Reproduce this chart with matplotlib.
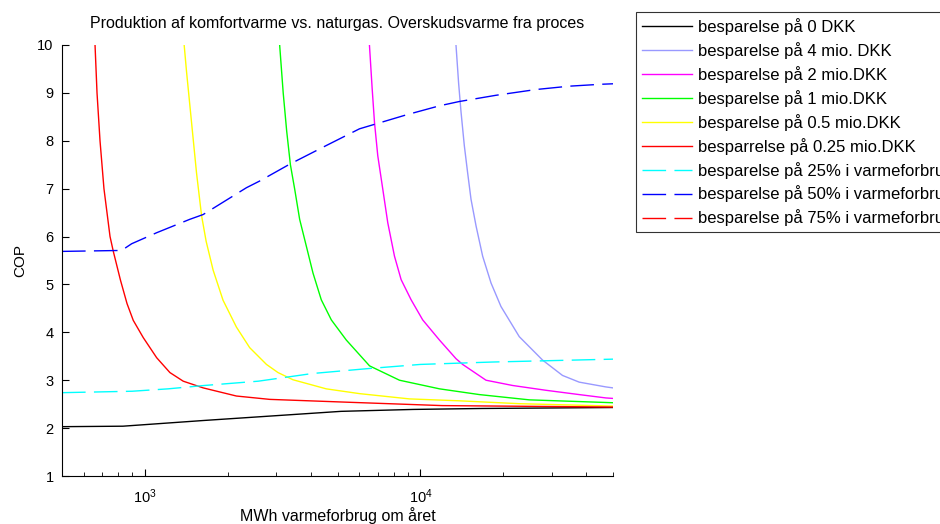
import matplotlib
matplotlib.use("Agg")
import matplotlib.pyplot as plt
from matplotlib.ticker import LogLocator, NullFormatter, FixedLocator

plt.rcParams['font.family'] = ['Liberation Sans', 'DejaVu Sans']
plt.rcParams['mathtext.fontset'] = 'custom'
plt.rcParams['mathtext.rm'] = 'Liberation Sans'

# --- data (MWh per year, COP) ---
x_0 = [500, 832, 1641, 3383, 5150, 9420, 16700, 50000]
y_0 = [2.03, 2.04, 2.16, 2.28, 2.35, 2.39, 2.41, 2.43]

x_4mio = [13460, 13760, 14040, 14430, 14830, 15260, 15920, 16820, 18040, 19600,
          22840, 27760, 32780, 37690, 47130, 50000]
y_4mio = [10.0, 9.2, 8.6, 7.9, 7.34, 6.78, 6.22, 5.59, 5.03, 4.54,
          3.91, 3.42, 3.10, 2.96, 2.86, 2.84]

x_2mio = [6530, 6680, 6810, 7000, 7300, 7610, 8050, 8510, 9250, 10190, 11720,
          13460, 14230, 17300, 21610, 28540, 37690, 47130, 50000]
y_2mio = [10.0, 9.09, 8.39, 7.69, 6.99, 6.29, 5.59, 5.10, 4.68, 4.26, 3.84,
          3.45, 3.33, 3.00, 2.89, 2.79, 2.70, 2.63, 2.62]

x_1mio = [3083, 3176, 3270, 3373, 3496, 3644, 3853, 4073, 4366, 4748, 5380,
          6535, 8395, 11730, 16370, 24850, 50000]
y_1mio = [10.0, 9.0, 8.2, 7.5, 6.99, 6.36, 5.80, 5.24, 4.68, 4.26, 3.84,
          3.30, 3.00, 2.82, 2.70, 2.59, 2.53]

x_05mio = [1388, 1416, 1476, 1539, 1605, 1668, 1768, 1921, 2148, 2400, 2761,
           3041, 3445, 4550, 6010, 9120, 13840, 22840, 50000]
y_05mio = [10.0, 9.44, 8.39, 7.33, 6.44, 5.90, 5.30, 4.67, 4.11, 3.68, 3.33,
           3.16, 3.01, 2.82, 2.72, 2.61, 2.57, 2.51, 2.46]

x_025mio = [659, 670, 687, 710, 747, 767, 815, 861, 907, 986, 1103, 1232,
            1377, 1627, 2148, 2837, 5480, 12000, 50000]
y_025mio = [10.0, 9.0, 8.0, 7.0, 6.0, 5.70, 5.09, 4.60, 4.25, 3.89, 3.47, 3.16,
            2.98, 2.84, 2.67, 2.60, 2.54, 2.47, 2.44]

x_25pct = [500, 899, 1214, 1641, 2580, 4051, 6370, 10000, 18270, 50000]
y_25pct = [2.74, 2.77, 2.82, 2.89, 2.98, 3.14, 3.24, 3.33, 3.38, 3.44]

x_50pct = [500, 823, 895, 1103, 1455, 1627, 2336, 2610, 3350, 4550, 6010,
           8870, 11720, 13840, 18800, 26240, 34650, 45200, 50000]
y_50pct = [5.69, 5.71, 5.85, 6.08, 6.36, 6.46, 7.02, 7.16, 7.51, 7.90, 8.25,
           8.54, 8.73, 8.82, 8.95, 9.07, 9.14, 9.18, 9.19]

# 75% curve lies outside the visible range (appears only in the legend)
x_75pct = []
y_75pct = []

labels = ["besparelse på 0 DKK", "besparelse på 4 mio. DKK", "besparelse på 2 mio.DKK",
          "besparelse på 1 mio.DKK", "besparelse på 0.5 mio.DKK", "besparrelse på 0.25 mio.DKK",
          "besparelse på 25% i varmeforbrug", "besparelse på 50% i varmeforbrug",
          "besparelse på 75% i varmeforbrug"]

fig = plt.figure(figsize=(9.40, 5.24), dpi=100)
ax = fig.add_axes([62/940, 1-476/524, (613-62)/940, (476-45)/524])

dash = (0, (17, 6))
series = [
    (x_0, y_0, 'black', '-'),
    (x_4mio, y_4mio, '#9999ff', '-'),
    (x_2mio, y_2mio, '#ff00ff', '-'),
    (x_1mio, y_1mio, '#00ff00', '-'),
    (x_05mio, y_05mio, '#ffff00', '-'),
    (x_025mio, y_025mio, '#ff0000', '-'),
    (x_25pct, y_25pct, '#00ffff', dash),
    (x_50pct, y_50pct, '#0000ff', dash),
    (x_75pct, y_75pct, '#ff0000', dash),
]
handles = []
for (xs, ys, c, ls), lab in zip(series, labels):
    h, = ax.plot(xs, ys, color=c, linestyle=ls, linewidth=1.0, label=lab)
    handles.append(h)

ax.set_xscale('log')
ax.set_xlim(500, 50000)
ax.set_ylim(1, 10)
ax.set_yticks(range(1, 11))
ax.xaxis.set_major_locator(FixedLocator([1000, 10000]))
ax.xaxis.set_minor_locator(LogLocator(base=10, subs=range(2, 10)))
ax.xaxis.set_minor_formatter(NullFormatter())
ax.tick_params(direction='in', which='both', labelsize=10.5, length=5)
ax.tick_params(axis='x', which='major', pad=8)
ax.tick_params(axis='y', which='major', pad=6)
ax.tick_params(which='minor', length=3)
ax.spines['top'].set_visible(False)
ax.spines['right'].set_visible(False)
ax.set_title("Produktion af komfortvarme vs. naturgas. Overskudsvarme fra proces",
             fontsize=11.5, pad=12)
ax.set_xlabel("MWh varmeforbrug om året", fontsize=11.5, labelpad=1)
ax.set_ylabel("COP", fontsize=11, labelpad=7)

leg = fig.legend(handles=handles, labels=labels, loc='upper left',
                 bbox_to_anchor=(636/940, 1-12/524), fontsize=12,
                 frameon=True, fancybox=False, edgecolor='black',
                 handlelength=3.0, labelspacing=0.42, borderpad=0.35,
                 handletextpad=0.35, borderaxespad=0)
leg.get_frame().set_linewidth(0.8)

fig.savefig("out.png", dpi=100)
